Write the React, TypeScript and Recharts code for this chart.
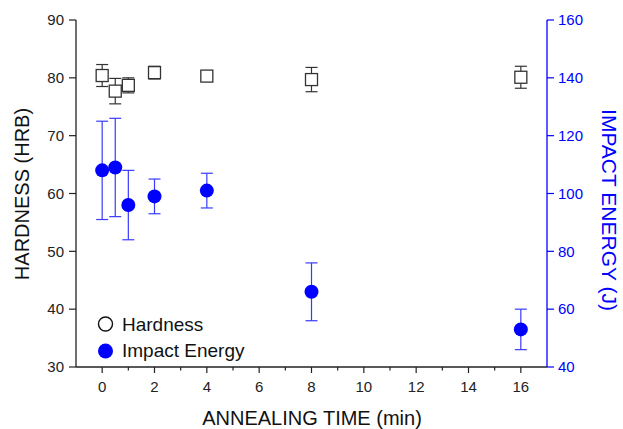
import React from "react";
import {
  ComposedChart,
  Scatter,
  XAxis,
  YAxis,
  ErrorBar,
  Label,
} from "recharts";

const times = [0, 0.5, 1, 2, 4, 8, 16];
const hardness = [80.4, 77.7, 78.7, 80.9, 80.3, 79.7, 80.1];
const hardnessErr = [1.9, 2.2, 1.3, 1.1, 0.4, 2.1, 1.9];
const impactEnergy = [108, 109, 96, 99, 101, 66, 53];
const impactErr = [17, 17, 12, 6, 6, 10, 7];

const xTicks = [0, 1, 2, 3, 4, 5, 6, 7, 8, 9, 10, 11, 12, 13, 14, 15, 16];
const leftTicks = [30, 40, 50, 60, 70, 80, 90];
const rightTicks = [40, 60, 80, 100, 120, 140, 160];

const hardnessData = times.map((t, i) => ({ t, v: hardness[i], err: hardnessErr[i] }));
const impactData = times.map((t, i) => ({ t, v: impactEnergy[i], err: impactErr[i] }));

const FONT = '"Liberation Sans", Arial, sans-serif';
const BLUE = "#0000ff";

const SquareShape = (props: any) => {
  const { cx, cy } = props;
  return <rect x={cx - 6} y={cy - 6} width={12} height={12} fill="#fff" stroke="#333" strokeWidth={1.3} />;
};

const DotShape = (props: any) => {
  const { cx, cy } = props;
  return <circle cx={cx} cy={cy} r={7} fill={BLUE} />;
};

// major ticks get a label, odd ones are short minor ticks
const XTick = (props: any) => {
  const { x, y, payload } = props;
  const major = payload.value % 2 === 0;
  return (
    <g>
      <line x1={x} x2={x} y1={y} y2={y + (major ? 6 : 3.5)} stroke="#222" strokeWidth={1.2} />
      {major && (
        <text x={x} y={y + 25} textAnchor="middle" fontSize={15} fill="#222" fontFamily={FONT}>
          {payload.value}
        </text>
      )}
    </g>
  );
};

export default function App() {
  return (
    <div style={{ position: "absolute", left: 0, top: 0, width: 623, height: 429, background: "#fff", fontFamily: FONT }}>
      <ComposedChart width={623} height={429} margin={{ top: 20, right: 0, bottom: 0, left: 0 }}>
        <XAxis
          xAxisId="top"
          orientation="top"
          type="number"
          dataKey="t"
          domain={[-1, 17]}
          height={0}
          tick={false}
          tickLine={false}
          axisLine={{ stroke: "#222", strokeWidth: 1.3 }}
        />
        <XAxis
          type="number"
          dataKey="t"
          domain={[-1, 17]}
          ticks={xTicks}
          interval={0}
          height={62}
          tickSize={0}
          tickMargin={0}
          tickLine={false}
          tick={<XTick />}
          axisLine={{ stroke: "#222", strokeWidth: 1.3 }}
        >
          <Label
            content={() => (
              <text x={312} y={425} textAnchor="middle" fontSize={20} fill="#111" fontFamily={FONT}>
                ANNEALING TIME (min)
              </text>
            )}
          />
        </XAxis>
        <YAxis
          yAxisId="left"
          type="number"
          domain={[30, 90]}
          ticks={leftTicks}
          width={76}
          tickSize={7}
          tickMargin={5}
          tick={{ fontSize: 15, fill: "#222", fontFamily: FONT }}
          tickLine={{ stroke: "#222", strokeWidth: 1.2 }}
          axisLine={{ stroke: "#222", strokeWidth: 1.3 }}
        >
          <Label
            content={() => (
              <text
                x={22}
                y={194}
                transform="rotate(-90 22 194)"
                textAnchor="middle"
                dominantBaseline="central"
                fontSize={20}
                fill="#111"
                fontFamily={FONT}
              >
                HARDNESS (HRB)
              </text>
            )}
          />
        </YAxis>
        <YAxis
          yAxisId="right"
          orientation="right"
          type="number"
          domain={[40, 160]}
          ticks={rightTicks}
          width={76}
          tickSize={7}
          tickMargin={4}
          tick={{ fontSize: 15, fill: BLUE, fontFamily: FONT }}
          tickLine={{ stroke: BLUE, strokeWidth: 1.2 }}
          axisLine={{ stroke: BLUE, strokeWidth: 1.3 }}
        >
          <Label
            content={() => (
              <text
                x={609}
                y={210}
                transform="rotate(90 609 210)"
                textAnchor="middle"
                dominantBaseline="central"
                fontSize={21}
                fill={BLUE}
                fontFamily={FONT}
              >
                IMPACT ENERGY (J)
              </text>
            )}
          />
        </YAxis>
        <Scatter
          name="Impact Energy"
          data={impactData}
          dataKey="v"
          yAxisId="right"
          shape={<DotShape />}
          isAnimationActive={false}
        >
          <ErrorBar dataKey="err" direction="y" width={6} stroke="#3a3aff" strokeWidth={1.2} />
        </Scatter>
        <Scatter
          name="Hardness"
          data={hardnessData}
          dataKey="v"
          yAxisId="left"
          shape={<SquareShape />}
          isAnimationActive={false}
        >
          <ErrorBar dataKey="err" direction="y" width={6} stroke="#333" strokeWidth={1.2} />
        </Scatter>
      </ComposedChart>
      <svg
        width={200}
        height={60}
        style={{ position: "absolute", left: 90, top: 308 }}
      >
        <circle cx={15.5} cy={16} r={7} fill="#fff" stroke="#111" strokeWidth={1.4} />
        <text x={32} y={23} fontSize={19} fill="#111" fontFamily={FONT}>Hardness</text>
        <circle cx={15.5} cy={43} r={7.5} fill={BLUE} />
        <text x={32} y={49} fontSize={19} fill="#111" fontFamily={FONT}>Impact Energy</text>
      </svg>
    </div>
  );
}
